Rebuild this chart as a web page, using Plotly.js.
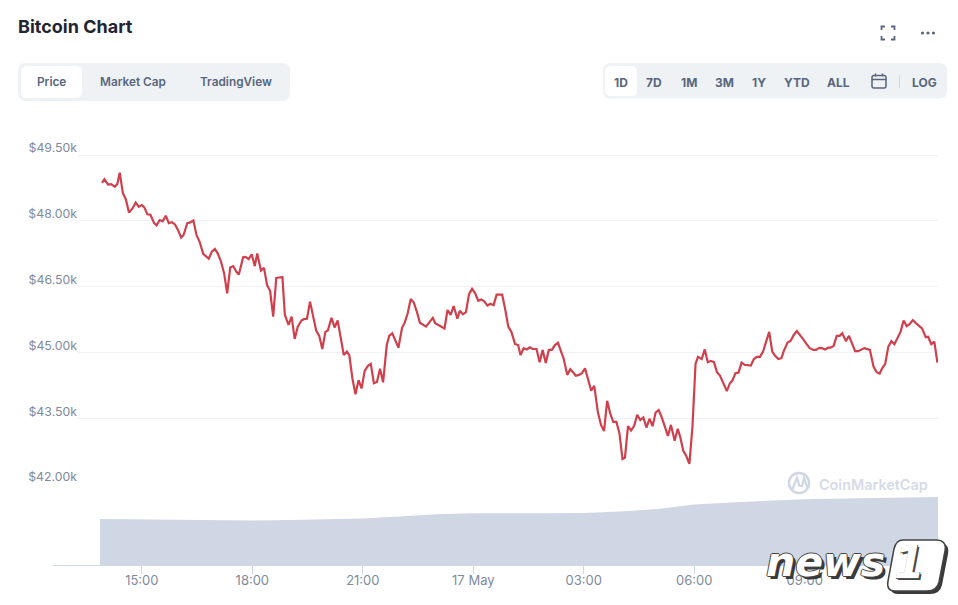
<!DOCTYPE html>
<html>
<head>
<meta charset="utf-8">
<script src="https://cdn.plot.ly/plotly-3.0.1.min.js"></script>
<style>
html, body { margin: 0; padding: 0; background: #fff; overflow: hidden; }
#chart { width: 958px; height: 605px; }
</style>
</head>
<body>
<div id="chart"></div>
<script>
// minutes since 16 May 00:00
var priceMinutes = [835,839,845,850,856,860,864,869,874,879,885,890,895,900,904,909,914,920,924,929,934,939,944,949,954,959,964,968,974,978,984,989,994,1000,1004,1009,1014,1019,1024,1029,1034,1039,1044,1049,1054,1058,1065,1069,1074,1079,1084,1088,1094,1099,1104,1109,1114,1119,1124,1129,1133,1139,1144,1149,1154,1160,1164,1169,1174,1179,1184,1189,1194,1199,1203,1209,1214,1219,1224,1229,1234,1238,1243,1248,1253,1258,1263,1268,1273,1278,1283,1288,1293,1299,1303,1308,1318,1324,1328,1333,1338,1343,1348,1353,1363,1374,1378,1388,1393,1398,1403,1408,1414,1418,1423,1428,1433,1438,1443,1448,1453,1458,1463,1468,1473,1478,1487,1492,1497,1502,1508,1513,1517,1522,1527,1532,1537,1543,1548,1553,1558,1563,1568,1573,1578,1583,1587,1593,1598,1603,1607,1612,1617,1622,1627,1632,1637,1643,1648,1653,1658,1663,1668,1673,1678,1683,1687,1692,1697,1702,1707,1712,1717,1722,1727,1732,1737,1742,1747,1757,1762,1768,1773,1777,1782,1787,1792,1797,1802,1806,1812,1817,1822,1827,1832,1837,1842,1853,1858,1862,1867,1872,1877,1882,1892,1897,1902,1907,1912,1922,1927,1932,1937,1942,1946,1952,1957,1962,1967,1972,1977,1983,1988,1994,1998,2003,2008,2013,2018,2022,2027,2032,2037,2041,2047,2052,2062,2067,2077,2086,2092,2097,2102,2106,2111,2116,2121,2126,2136,2141,2146,2151,2156,2161,2171,2177,2181,2186,2191,2196];
var prices = [48870,48950,48830,48840,48780,48840,49100,48640,48490,48190,48290,48420,48320,48360,48310,48150,48140,47950,47900,48020,47990,48120,47950,47970,47920,47790,47620,47680,47950,47960,48010,47680,47530,47250,47200,47140,47300,47360,47250,47070,46810,46350,46940,46970,46840,46780,47170,47180,47130,47240,46970,47260,46870,46930,46540,46400,45820,46700,46710,46720,45860,45630,45820,45310,45590,45730,45760,45770,46160,45820,45500,45380,45080,45470,45500,45790,45570,45730,45310,44940,45020,44940,44410,44050,44370,44180,44580,44690,44740,44300,44330,44630,44320,45170,45380,45440,45110,45570,45670,45890,46220,46140,45930,45680,45590,45790,45670,45590,45550,45970,45860,46060,45770,45950,45870,45920,46330,46450,46350,46180,46210,46160,46070,46110,46080,46320,46320,45980,45590,45470,45190,45170,44940,45100,45070,45120,45080,45080,44780,45060,44760,45060,45060,45170,45220,45020,44870,44490,44620,44540,44470,44490,44530,44640,44410,44130,44240,43630,43350,43210,43900,43610,43420,43420,43160,42570,42600,43320,43220,43330,43580,43460,43520,43290,43490,43320,43630,43690,43520,43100,43350,42990,43260,43080,42760,42640,42460,43310,44740,44900,44850,45070,44780,44810,44780,44550,44470,44120,44300,44360,44530,44540,44770,44720,44700,44850,44900,44900,45020,45470,45020,44920,44850,44870,45040,45230,45270,45400,45490,45410,45310,45190,45100,45060,45060,45100,45100,45070,45110,45110,45150,45380,45380,45440,45260,45380,45030,45030,45100,45060,44680,44550,44520,44640,44740,45130,45260,45190,45470,45730,45600,45650,45740,45670,45550,45350,45360,45190,45250,44770];

// 24h volume, $bn
var volumeMinutes = [832,900,960,1020,1080,1140,1200,1260,1320,1380,1440,1500,1560,1620,1680,1740,1800,1860,1920,1980,2040,2100,2160,2197];
var volumes = [46,45.5,44.8,44.5,44.6,45,45.8,46.6,48.5,50.8,51.8,51.6,51.8,52,53.5,56,60.5,62.5,64,65.8,66.5,67,67.5,68];

var priceTicks = [42000,43500,45000,46500,48000,49500];
var priceLabels = ['$42.00k','$43.50k','$45.00k','$46.50k','$48.00k','$49.50k'];
var timeTicks = [900,1080,1260,1440,1620,1800,1980,2160];
var timeLabels = ['15:00','18:00','21:00','17 May','03:00','06:00','09:00','12:00'];

var tabs = ['Price','Market Cap','TradingView'];
var ranges = ['1D','7D','1M','3M','1Y','YTD','ALL','LOG'];

var W = 958, H = 605;
function px(x) { return x / W; }
function py(y) { return 1 - y / H; }

function roundRect(x0, y0, x1, y1, r) {
  var p = function(x, y) { return px(x) + ',' + py(y); };
  return 'M' + p(x0 + r, y0) + 'L' + p(x1 - r, y0) + 'Q' + p(x1, y0) + ' ' + p(x1, y0 + r) +
    'L' + p(x1, y1 - r) + 'Q' + p(x1, y1) + ' ' + p(x1 - r, y1) +
    'L' + p(x0 + r, y1) + 'Q' + p(x0, y1) + ' ' + p(x0, y1 - r) +
    'L' + p(x0, y0 + r) + 'Q' + p(x0, y0) + ' ' + p(x0 + r, y0) + 'Z';
}
// slanted box for the news1 mark, dx moves the whole thing
function slantBox(dx, dy) {
  var p = function(x, y) { return px(x + dx) + ',' + py(y + dy); };
  return 'M' + p(903, 540) + 'L' + p(936, 540) + 'Q' + p(947, 540) + ' ' + p(945, 551) +
    'L' + p(939, 582) + 'Q' + p(937, 591) + ' ' + p(927, 591) +
    'L' + p(895, 591) + 'Q' + p(886, 591) + ' ' + p(888, 581) +
    'L' + p(894, 549) + 'Q' + p(896, 540) + ' ' + p(903, 540) + 'Z';
}
function pathFrom(points) {
  return 'M' + points.map(function(q) { return px(q[0]) + ',' + py(q[1]); }).join('L');
}
function fillShape(path, color, layer) {
  return {type: 'path', xref: 'paper', yref: 'paper', path: path, fillcolor: color, line: {width: 0}, layer: layer || 'above'};
}
function lineShape(points, color, width) {
  return {type: 'path', xref: 'paper', yref: 'paper', path: pathFrom(points), line: {color: color, width: width}, layer: 'above'};
}
function circle(cx, cy, r, fill, stroke, width) {
  return {type: 'circle', xref: 'paper', yref: 'paper', x0: px(cx - r), x1: px(cx + r), y0: py(cy + r), y1: py(cy - r),
    fillcolor: fill, line: {color: stroke, width: width}, layer: 'above'};
}
function label(text, x, y, size, color, weight, anchor) {
  return {text: text, xref: 'paper', yref: 'paper', x: px(x), y: py(y), xanchor: anchor || 'center', yanchor: 'middle',
    showarrow: false, font: {family: 'Inter', size: size, color: color, weight: weight}};
}

var textCol = '#58667e', panel = '#eff2f5', wm = '#cfd6e4';
var logoShadow = '1px 0 0 #444, -1px 0 0 #444, 0 1px 0 #444, 0 -1px 0 #444, 3px 3px 0 #3a3a3a';

var shapes = [
  // tab group
  fillShape(roundRect(18, 63, 290, 101, 8), panel),
  fillShape(roundRect(21, 66, 82, 98, 6), '#fff'),
  // range group
  fillShape(roundRect(603, 63, 947, 98.5, 8), panel),
  fillShape(roundRect(605, 66, 637, 96, 6), '#fff'),
  lineShape([[899.5, 75], [899.5, 88]], '#cfd6e4', 1),
  // calendar icon
  {type: 'path', xref: 'paper', yref: 'paper', path: roundRect(872, 75.5, 886, 88, 2), line: {color: textCol, width: 1.5}, layer: 'above'},
  lineShape([[872, 79.5], [886, 79.5]], textCol, 1.5),
  lineShape([[875.5, 73.5], [875.5, 76.5]], textCol, 1.5),
  lineShape([[882.5, 73.5], [882.5, 76.5]], textCol, 1.5),
  // fullscreen icon
  lineShape([[881.5, 30], [881.5, 26.5], [885, 26.5]], textCol, 1.8),
  lineShape([[891, 26.5], [894.5, 26.5], [894.5, 30]], textCol, 1.8),
  lineShape([[881.5, 36], [881.5, 39.5], [885, 39.5]], textCol, 1.8),
  lineShape([[891, 39.5], [894.5, 39.5], [894.5, 36]], textCol, 1.8),
  // dots
  circle(922.5, 33, 1.6, textCol, textCol, 0),
  circle(928, 33, 1.6, textCol, textCol, 0),
  circle(933.5, 33, 1.6, textCol, textCol, 0),
  // baseline left of the data
  lineShape([[53, 565.5], [78, 565.5]], wm, 1),
  // CoinMarketCap watermark
  fillShape(roundRect(786, 472, 930, 494, 0), '#fff'),
  circle(799, 483, 10, 'rgba(0,0,0,0)', wm, 2.5),
  lineShape([[792.5, 489], [797, 478], [799.5, 486], [802, 486], [804, 478], [807, 487]], wm, 2.2),
  // news1 box
  fillShape(slantBox(3, 3), '#3a3a3a'),
  {type: 'path', xref: 'paper', yref: 'paper', path: slantBox(0, 0), fillcolor: '#fff', line: {color: '#444', width: 1.5}, layer: 'above'}
];

var annotations = [
  label('Bitcoin Chart', 16, 27, 18, '#222531', 700, 'left'),
  label(tabs[0], 51.5, 82, 11.8, textCol, 600),
  label(tabs[1], 133, 82, 11.8, textCol, 600),
  label(tabs[2], 235.5, 82, 11.8, textCol, 600),
  label(ranges[0], 621, 82, 12, textCol, 700),
  label(ranges[1], 654, 82, 12, textCol, 700),
  label(ranges[2], 688.5, 82, 12, textCol, 700),
  label(ranges[3], 724, 82, 12, textCol, 700),
  label(ranges[4], 759, 82, 12, textCol, 700),
  label(ranges[5], 796.5, 82, 12, textCol, 700),
  label(ranges[6], 838.5, 82, 12, textCol, 700),
  label(ranges[7], 924, 82, 12, textCol, 700),
  label('CoinMarketCap', 817, 484, 14.4, '#d5dbe6', 600, 'left'),
  {text: 'news', xref: 'paper', yref: 'paper', x: px(825), y: py(562), xanchor: 'center', yanchor: 'middle', showarrow: false,
    font: {family: 'DejaVu Sans', size: 41, color: '#fff', weight: 700, style: 'italic', shadow: logoShadow}},
  {text: '1', xref: 'paper', yref: 'paper', x: px(909), y: py(562), xanchor: 'center', yanchor: 'middle', showarrow: false,
    font: {family: 'DejaVu Sans', size: 44, color: '#fff', weight: 700, style: 'italic', shadow: '1px 0 0 #555, 0 1px 0 #555, 2px 2px 0 #444'}}
];

var data = [
  {x: priceMinutes, y: prices, type: 'scatter', mode: 'lines', yaxis: 'y',
    line: {color: '#d0404c', width: 2.2}, hoverinfo: 'skip'},
  {x: volumeMinutes, y: volumes, type: 'scatter', mode: 'lines', yaxis: 'y2', fill: 'tozeroy',
    fillcolor: '#cfd6e4', line: {width: 0, color: '#cfd6e4'}, hoverinfo: 'skip'}
];

var layout = {
  width: W, height: H,
  margin: {l: 0, r: 0, t: 0, b: 0},
  paper_bgcolor: '#fff', plot_bgcolor: '#fff',
  showlegend: false,
  font: {family: 'Inter', color: '#808a9d', size: 13},
  xaxis: {
    domain: [px(78), px(938)], range: [796, 2197], anchor: 'y2', type: 'linear',
    tickmode: 'array', tickvals: timeTicks, ticktext: timeLabels,
    showgrid: false, zeroline: false,
    showline: true, linecolor: wm, linewidth: 1,
    ticks: 'outside', ticklen: 8, tickcolor: wm, tickwidth: 1,
    ticklabelstandoff: -5,
    tickfont: {family: 'Inter', size: 13, color: '#808a9d'}
  },
  yaxis: {
    domain: [py(484.1), py(133.2)], range: [42000, 50000], anchor: 'x',
    tickmode: 'array', tickvals: priceTicks, ticktext: priceLabels,
    showgrid: true, gridcolor: '#eff2f5', gridwidth: 1, zeroline: false, showline: false,
    ticks: '', ticklabelshift: -7, ticklabelstandoff: 0,
    tickfont: {family: 'Inter', size: 12.3, color: '#808a9d'}
  },
  yaxis2: {
    domain: [py(565), py(465)], range: [0, 100], anchor: 'x',
    showticklabels: false, showgrid: false, zeroline: false, showline: false, ticks: ''
  },
  shapes: shapes,
  annotations: annotations
};

Plotly.newPlot('chart', data, layout, {displayModeBar: false, staticPlot: true});
</script>
</body>
</html>
